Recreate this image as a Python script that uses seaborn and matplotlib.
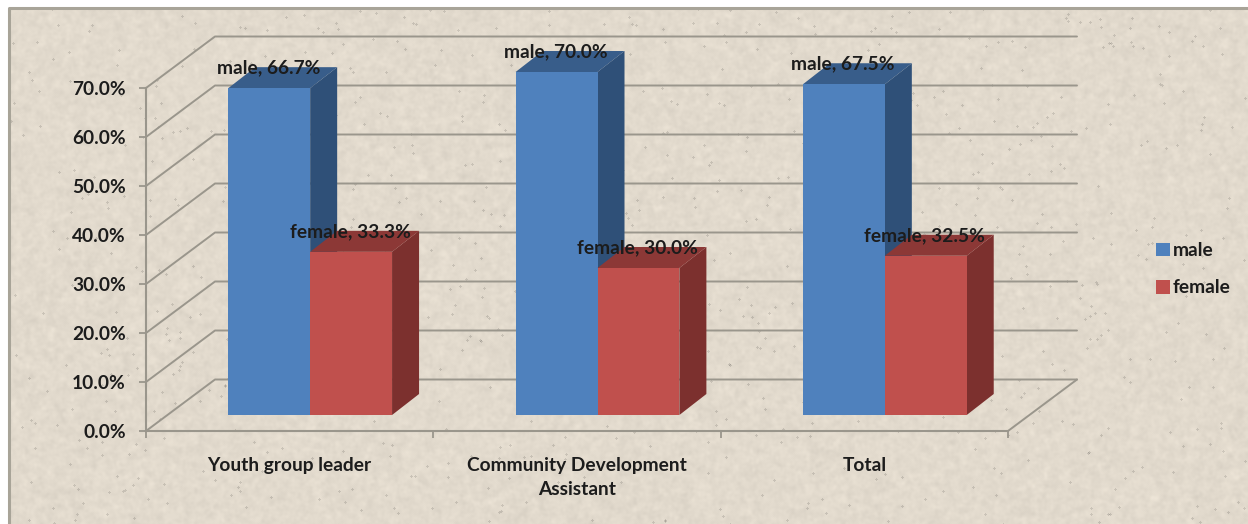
import numpy as np
import pandas as pd
import matplotlib
matplotlib.use("Agg")
import matplotlib.pyplot as plt
from matplotlib.patches import Polygon, Rectangle
import seaborn as sns

categories = ["Youth group leader", "Community Development\nAssistant", "Total"]
male = [66.7, 70.0, 67.5]
female = [33.3, 30.0, 32.5]
series_names = ["male", "female"]
y_ticks = [0, 10, 20, 30, 40, 50, 60, 70]

W, H = 1248, 524
FONT = "Lato"
sns.set_theme(style="white")
plt.rcParams["font.family"] = [FONT, "DejaVu Sans"]
TXT = "#1c1c1c"
GRID = "#9a968c"
FS = 13.8
WT = "bold"

df = pd.DataFrame({
    "category": categories * 2,
    "series": [series_names[0]] * 3 + [series_names[1]] * 3,
    "value": male + female,
})

fig = plt.figure(figsize=(W / 100, H / 100), dpi=100, facecolor="white")


def px_axes(x0, y0, x1, y1, **kw):
    return fig.add_axes([x0 / W, 1 - y1 / H, (x1 - x0) / W, (y1 - y0) / H], **kw)


# ---- decorative paper texture (deterministic hash noise, not chart data)
bg = fig.add_axes([0, 0, 1, 1], zorder=0)
yy, xx = np.mgrid[0:H, 0:W]


def hash_noise(a, b, s):
    v = np.sin(xx * a + yy * b + s) * 43758.5453
    return v - np.floor(v)


def blur(a, n):
    for _ in range(n):
        a = (a + np.roll(a, 1, 0) + np.roll(a, -1, 0) + np.roll(a, 1, 1) + np.roll(a, -1, 1)) / 5
    return a


fine = blur(hash_noise(12.9898, 78.233, 0.3) - 0.5, 3)
coarse = blur(hash_noise(39.346, 11.135, 1.7) - 0.5, 12)
spk = blur((hash_noise(73.156, 52.235, 2.9) > 0.9985).astype(float), 1)
tex = 1 + fine * 0.09 + coarse * 0.25 - spk * 0.6
base = np.array([226, 218, 205]) / 255
img = np.clip(tex[..., None] * base, 0, 1)
bg.imshow(img, extent=(0, W, H, 0), aspect="auto", interpolation="bilinear")
bg.set_xlim(0, W)
bg.set_ylim(H, 0)
bg.axis("off")
bg.add_patch(Rectangle((-2, -2), 11, H + 4, color="white", lw=0))
bg.add_patch(Rectangle((-2, -2), W + 4, 10, color="white", lw=0))
bg.plot([9, 9, W + 2], [H + 2, 8, 8], color="#a8a498", lw=2.2)

# ---- frame of the 3D box: front plane axes
ax = px_axes(146, 88, 1008, 431, zorder=1)
ax.patch.set_alpha(0)
ax.set_xlim(-0.5, 2.5)
ax.set_ylim(0, 70)
ax.set_yticks(y_ticks)
ax.set_yticklabels([f"{v:.1f}%" for v in y_ticks], fontsize=FS, color=TXT, fontweight=WT)
ax.set_xticks(range(3))
ax.set_xticklabels(categories, fontsize=FS, color=TXT, fontweight=WT, linespacing=1.5)
ax.set_xticks([-0.5, 0.5, 1.5, 2.5], minor=True)
ax.tick_params(axis="x", which="major", length=0, pad=19)
ax.tick_params(axis="x", which="minor", length=5, color=GRID, width=1.3, bottom=True)
ax.tick_params(axis="y", length=5, color=GRID, width=1.3, pad=9.5, left=True)
for s in ("top", "right"):
    ax.spines[s].set_visible(False)
for s in ("left", "bottom"):
    ax.spines[s].set_color(GRID)
    ax.spines[s].set_linewidth(1.5)

# oblique depth of the box, in data units of the front plane
x_per_px = 3 / (1008 - 146)
y_per_px = 70 / (431 - 88)
box_dx, box_dy = 69 * x_per_px, 51.5 * y_per_px
for v in y_ticks:
    ax.plot([-0.5, -0.5 + box_dx, 2.5 + box_dx], [v, v + box_dy, v + box_dy],
            color=GRID, lw=1.4, clip_on=False, zorder=1)
ax.plot([2.5, 2.5 + box_dx], [0, box_dy], color=GRID, lw=1.4, clip_on=False, zorder=1)

# ---- bars: same scale, plane shifted into the box
shift_x, shift_y = 20.5, 16
bar_ax = px_axes(146 + shift_x, 88 - shift_y, 1008 + shift_x, 431 - shift_y, zorder=2)
bar_ax.patch.set_alpha(0)
sns.barplot(data=df, x="category", y="value", hue="series", order=categories,
            hue_order=series_names, palette=["#4F81BD", "#C0504D"], saturation=1,
            width=0.57, gap=0, errorbar=None, ax=bar_ax, linewidth=0, legend=True)
bar_ax.set_xlim(-0.5, 2.5)
bar_ax.set_ylim(0, 70)
bar_ax.axis("off")

side_colors = ["#2F5078", "#7C302E"]
top_colors = ["#385D8A", "#8C3836"]
bar_dx, bar_dy = 27 * x_per_px, 21 * y_per_px
for i, cont in enumerate(bar_ax.containers):
    for p in cont.patches:
        x0, x1, h = p.get_x(), p.get_x() + p.get_width(), p.get_height()
        p.set_zorder(3 + 2 * i)
        bar_ax.add_patch(Polygon([(x1, 0), (x1 + bar_dx, bar_dy), (x1 + bar_dx, h + bar_dy), (x1, h)],
                                 closed=True, fc=side_colors[i], lw=0, zorder=2 + 2 * i, clip_on=False))
        bar_ax.add_patch(Polygon([(x0, h), (x0 + bar_dx, h + bar_dy), (x1 + bar_dx, h + bar_dy), (x1, h)],
                                 closed=True, fc=top_colors[i], lw=0, zorder=2 + 2 * i, clip_on=False))
        bar_ax.annotate(f"{series_names[i]}, {h:.1f}%", ((x0 + x1) / 2 - 1 * x_per_px, h), xytext=(0, 20.5 * 0.72),
                        textcoords="offset points", ha="center", va="center", fontsize=FS,
                        color=TXT, fontweight=WT, zorder=20, annotation_clip=False)

handles, labels = bar_ax.get_legend_handles_labels()
bar_ax.get_legend().remove()
fig.legend(handles, labels, loc="upper left", bbox_to_anchor=(1139 / W, 1 - 225 / H), frameon=False,
           handlelength=0.72, handleheight=0.72, handletextpad=0.15,
           labelspacing=1.05, labelcolor=TXT, prop={"family": FONT, "size": FS, "weight": WT})

fig.savefig("out.png", dpi=100, facecolor="white")
